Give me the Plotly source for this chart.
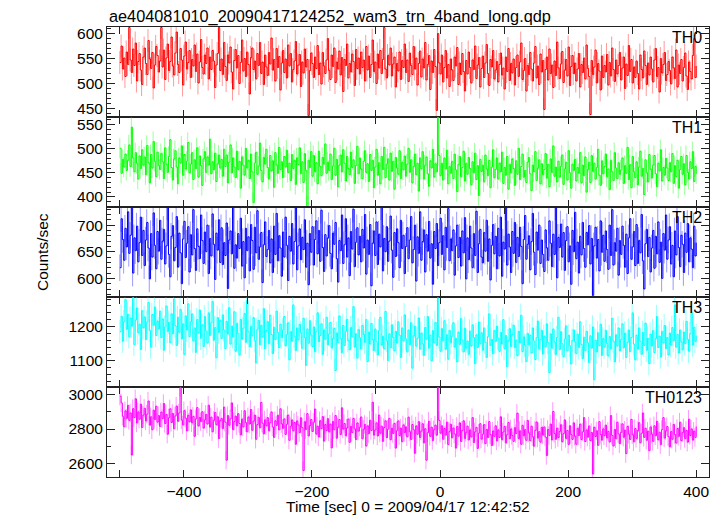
import plotly.graph_objects as go
from plotly.subplots import make_subplots

# time bins: first bin centre and bin width (seconds)
t_start = -500
bin_width = 2

th0 = [542, 575, 529, 551, 514, 563, 538,
       612, 547, 522, 569, 536, 581, 505, 544, 560, 527, 498, 553,
       571, 540, 518, 586, 549, 530, 562, 491, 537, 574, 556, 523,
       545, 612, 533, 567, 508, 551, 579, 526, 544, 593, 535, 517,
       561, 603, 538, 522, 570, 547, 497, 555, 583, 529, 542, 566,
       512, 548, 535, 577, 524, 559, 501, 543, 588, 532, 519, 557,
       540, 571, 509, 553, 528, 566, 545, 492, 537, 560, 612, 526,
       549, 518, 582, 534, 506, 557, 541, 573, 523, 489, 546, 568,
       531, 556, 500, 542, 587, 525, 550, 514, 563, 538, 479, 552,
       571, 528, 545, 509, 560, 536, 582, 520, 543, 498, 557, 533,
       516, 562, 539, 591, 527, 548, 505, 570, 532, 554, 487, 541,
       566, 522, 549, 511, 577, 535, 560, 503, 528, 545, 584, 519,
       537, 558, 494, 543, 521, 569, 533, 548, 436, 526, 561, 540,
       512, 553, 530, 576, 518, 541, 499, 562, 535, 520, 547, 590,
       526, 508, 557, 534, 571, 502, 543, 529, 565, 517, 552, 484,
       548, 536, 579, 511, 540, 523, 559, 544, 496, 568, 530, 551,
       519, 563, 532, 547, 505, 574, 527, 555, 512, 538, 587, 524,
       543, 500, 559, 531, 566, 520, 548, 612, 529, 511, 556, 537,
       571, 515, 539, 553, 493, 540, 525, 563, 508, 546, 532, 579,
       522, 547, 504, 561, 536, 518, 574, 529, 551, 497, 540, 565,
       513, 549, 531, 582, 507, 538, 556, 488, 545, 522, 568, 534,
       446, 600, 541, 519, 557, 503, 532, 566, 511, 538, 494, 549,
       527, 506, 553, 535, 572, 498, 541, 518, 560, 524, 485, 546,
       519, 563, 532, 501, 547, 528, 575, 510, 537, 552, 493, 530,
       555, 512, 541, 578, 520, 496, 548, 533, 566, 509, 527, 544,
       503, 538, 561, 517, 531, 489, 553, 524, 570, 506, 540, 521,
       549, 497, 532, 557, 514, 543, 581, 508, 526, 550, 485, 536,
       518, 562, 529, 505, 541, 574, 511, 535, 498, 559, 523, 546,
       448, 528, 553, 507, 569, 520, 537, 492, 545, 516, 583, 531,
       510, 539, 564, 502, 527, 548, 515, 573, 496, 534, 556, 520,
       541, 505, 529, 560, 493, 538, 522, 551, 509, 577, 530, 514,
       438, 546, 518, 533, 567, 501, 540, 525, 487, 555, 512, 536,
       523, 558, 497, 542, 515, 571, 528, 504, 547, 519, 536, 562,
       507, 531, 553, 490, 539, 516, 576, 524, 548, 501, 533, 512,
       545, 520, 489, 557, 528, 511, 565, 536, 498, 541, 517, 553,
       529, 503, 547, 570, 514, 532, 483, 550, 521, 538, 562, 506,
       518, 544, 526, 499, 553, 531, 510, 567, 493, 537, 520, 548,
       505, 532, 561, 515, 488, 543, 524, 509, 556, 590, 512, 535]

th1 = [501, 449, 478, 462, 489, 455, 476,
       508, 463, 545, 481, 452, 492, 470, 437, 485, 459, 498, 466,
       483, 446, 507, 471, 429, 488, 460, 515, 474, 442, 493, 465,
       457, 490, 473, 438, 502, 468, 451, 484, 519, 461, 435, 479,
       496, 462, 427, 481, 470, 506, 445, 488, 458, 474, 513, 450,
       468, 492, 436, 477, 459, 502, 441, 485, 465, 424, 479, 494,
       451, 483, 466, 520, 448, 473, 456, 491, 432, 469, 487, 460,
       478, 443, 499, 463, 487, 429, 472, 508, 450, 481, 462, 440,
       495, 457, 474, 418, 483, 466, 445, 501, 460, 476, 438, 489,
       452, 388, 470, 493, 447, 464, 512, 455, 431, 482, 468, 499,
       461, 437, 486, 454, 475, 420, 492, 466, 449, 503, 457, 473,
       440, 484, 462, 497, 451, 470, 434, 488, 459, 476, 426, 481,
       467, 502, 448, 473, 430, 490, 455, 380, 476, 461, 494, 443,
       486, 452, 471, 427, 495, 463, 444, 482, 468, 510, 449, 472,
       455, 489, 436, 464, 501, 445, 478, 421, 466, 487, 452, 498,
       470, 433, 484, 459, 446, 493, 461, 477, 428, 465, 505, 448,
       481, 458, 438, 474, 496, 451, 469, 432, 488, 455, 476, 419,
       462, 499, 445, 471, 427, 484, 457, 503, 440, 468, 479, 435,
       491, 453, 474, 416, 482, 460, 447, 496, 438, 472, 456, 485,
       443, 468, 501, 451, 477, 429, 463, 489, 446, 470, 412, 481,
       458, 494, 437, 466, 483, 448, 422, 475, 460, 499, 441, 469,
       452, 565, 486, 444, 470, 435, 481, 458, 497, 427, 463, 449,
       474, 438, 489, 456, 411, 467, 484, 442, 461, 495, 433, 470,
       447, 482, 459, 425, 473, 450, 491, 436, 465, 403, 478, 453,
       466, 431, 487, 458, 444, 476, 419, 462, 498, 440, 457, 481,
       437, 470, 452, 493, 428, 461, 445, 484, 416, 467, 450, 479,
       459, 424, 475, 447, 501, 436, 463, 489, 441, 455, 430, 472,
       482, 448, 413, 466, 452, 494, 434, 460, 477, 427, 469, 446,
       457, 490, 439, 468, 421, 479, 451, 506, 443, 462, 431, 474,
       441, 463, 487, 426, 458, 472, 435, 496, 450, 418, 468, 455,
       478, 433, 461, 449, 492, 429, 466, 444, 483, 410, 457, 472,
       430, 486, 453, 470, 437, 461, 499, 445, 424, 475, 448, 463,
       489, 442, 458, 415, 476, 452, 434, 492, 460, 438, 471, 447,
       456, 481, 428, 465, 449, 503, 436, 467, 419, 484, 452, 440,
       473, 425, 462, 495, 443, 459, 405, 477, 450, 431, 488, 457,
       439, 466, 486, 448, 421, 470, 454, 498, 433, 461, 445, 480,
       460, 434, 471, 452, 490, 428, 465, 442, 476, 418, 457, 484,
       447, 469, 425, 486, 451, 437, 473, 459, 494, 432, 463, 448]

th2 = [620, 712, 673, 634, 694, 659, 725,
       647, 681, 734, 610, 676, 652, 698, 631, 667, 715, 643, 690,
       624, 672, 705, 657, 599, 684, 640, 723, 662, 618, 688, 651,
       709, 636, 670, 692, 627, 661, 734, 645, 603, 679, 699, 633,
       658, 716, 621, 685, 648, 590, 674, 707, 639, 666, 697, 612,
       682, 644, 729, 656, 615, 693, 660, 637, 719, 671, 628, 687,
       650, 700, 609, 675, 642, 721, 664, 598, 685, 653, 710, 630,
       695, 626, 667, 643, 704, 581, 672, 689, 646, 734, 619, 663,
       638, 684, 656, 713, 623, 669, 601, 694, 652, 678, 614, 701,
       671, 617, 696, 648, 727, 636, 659, 686, 592, 663, 706, 641,
       654, 690, 629, 674, 611, 698, 645, 722, 633, 680, 657, 604,
       687, 640, 715, 662, 596, 679, 651, 703, 627, 669, 734, 616,
       661, 693, 635, 677, 654, 710, 621, 666, 588, 684, 649, 697,
       625, 673, 708, 646, 690, 632, 728, 658, 613, 682, 642, 676,
       699, 647, 618, 685, 664, 705, 637, 593, 671, 652, 719, 628,
       663, 712, 640, 676, 605, 688, 655, 730, 622, 668, 695, 644,
       679, 631, 692, 657, 720, 608, 672, 645, 701, 586, 666, 689,
       643, 706, 626, 683, 659, 734, 614, 675, 650, 697, 632, 670,
       717, 653, 602, 686, 641, 693, 667, 620, 709, 656, 681, 609,
       660, 695, 637, 672, 716, 629, 654, 700, 595, 678, 647, 725,
       634, 669, 691, 612, 682, 651, 707, 638, 665, 589, 688, 656,
       703, 624, 667, 713, 645, 680, 616, 696, 658, 731, 633, 674,
       652, 691, 606, 661, 700, 639, 677, 623, 689, 648, 714, 599,
       676, 635, 698, 657, 620, 684, 643, 726, 611, 665, 692, 640,
       629, 686, 651, 709, 632, 674, 597, 662, 701, 646, 679, 618,
       694, 642, 715, 604, 668, 655, 734, 625, 683, 659, 611, 688,
       647, 705, 630, 677, 641, 696, 660, 590, 673, 718, 636, 664,
       680, 616, 669, 722, 649, 607, 687, 653, 700, 628, 672, 645,
       613, 691, 657, 634, 708, 666, 622, 683, 645, 734, 601, 677,
       658, 702, 640, 686, 615, 671, 697, 631, 661, 589, 690, 650,
       724, 637, 668, 610, 679, 644, 705, 656, 621, 686, 663, 699,
       627, 675, 568, 661, 696, 638, 673, 614, 708, 649, 681, 632,
       689, 654, 617, 700, 643, 729, 625, 667, 651, 694, 606, 671,
       645, 698, 662, 621, 683, 609, 676, 712, 636, 659, 688, 624,
       701, 628, 671, 648, 720, 633, 580, 665, 692, 641, 677, 612,
       657, 690, 619, 679, 646, 706, 630, 668, 600, 684, 653, 719,
       636, 672, 697, 627, 662, 603, 689, 644, 716, 658, 622, 681,
       664, 611, 685, 649, 703, 631, 676, 655, 620, 698, 642, 667]

th3 = [1185, 1230, 1157, 1214, 1278, 1192, 1236,
       1170, 1225, 1201, 1284, 1148, 1219, 1254, 1182, 1207, 1133, 1246, 1196,
       1228, 1162, 1213, 1270, 1189, 1140, 1235, 1204, 1257, 1174, 1216, 1193,
       1245, 1168, 1222, 1131, 1199, 1260, 1186, 1212, 1153, 1237, 1179, 1280,
       1202, 1145, 1227, 1183, 1250, 1164, 1208, 1119, 1231, 1190, 1266, 1171,
       1214, 1237, 1158, 1196, 1125, 1220, 1181, 1248, 1166, 1205, 1142, 1229,
       1187, 1152, 1240, 1174, 1211, 1273, 1160, 1197, 1109, 1226, 1183, 1218,
       1165, 1234, 1190, 1136, 1215, 1178, 1255, 1149, 1201, 1170, 1243, 1128,
       1209, 1180, 1117, 1221, 1163, 1195, 1238, 1154, 1276, 1185, 1141, 1200,
       1173, 1226, 1159, 1094, 1192, 1218, 1147, 1204, 1169, 1252, 1136, 1188,
       1214, 1150, 1233, 1177, 1121, 1198, 1162, 1245, 1183, 1139, 1207, 1168,
       1190, 1229, 1144, 1176, 1211, 1103, 1185, 1157, 1263, 1172, 1130, 1196,
       1161, 1206, 1182, 1137, 1224, 1168, 1087, 1193, 1151, 1217, 1176, 1142,
       1199, 1127, 1185, 1240, 1156, 1174, 1208, 1119, 1190, 1163, 1227, 1147,
       1178, 1212, 1138, 1165, 1195, 1072, 1181, 1153, 1231, 1166, 1124, 1203,
       1145, 1186, 1221, 1159, 1132, 1197, 1170, 1258, 1140, 1179, 1108, 1191,
       1167, 1135, 1203, 1177, 1154, 1220, 1098, 1184, 1149, 1209, 1162, 1130,
       1193, 1156, 1117, 1188, 1227, 1146, 1172, 1135, 1244, 1160, 1101, 1179,
       1138, 1205, 1168, 1129, 1186, 1152, 1214, 1175, 1110, 1196, 1158, 1234,
       1164, 1126, 1190, 1147, 1211, 1079, 1173, 1201, 1143, 1166, 1225, 1134,
       1181, 1150, 1116, 1197, 1163, 1229, 1137, 1175, 1100, 1188, 1152, 1212,
       1145, 1283, 1170, 1128, 1194, 1159, 1217, 1134, 1176, 1105, 1189, 1153,
       1172, 1211, 1140, 1166, 1097, 1184, 1148, 1223, 1161, 1126, 1195, 1137,
       1158, 1119, 1187, 1143, 1205, 1168, 1092, 1176, 1139, 1213, 1150, 1182,
       1131, 1196, 1154, 1110, 1171, 1237, 1145, 1163, 1121, 1188, 1157, 1201,
       1166, 1128, 1183, 1149, 1220, 1136, 1174, 1083, 1159, 1194, 1142, 1177,
       1204, 1139, 1161, 1115, 1186, 1152, 1233, 1127, 1170, 1146, 1098, 1180,
       1147, 1175, 1123, 1196, 1158, 1104, 1167, 1216, 1135, 1162, 1189, 1120,
       1172, 1141, 1208, 1153, 1066, 1179, 1137, 1193, 1155, 1118, 1168, 1227,
       1133, 1185, 1150, 1112, 1163, 1202, 1129, 1174, 1144, 1091, 1160, 1190,
       1156, 1121, 1178, 1139, 1214, 1148, 1107, 1169, 1130, 1186, 1153, 1095,
       1173, 1137, 1199, 1045, 1160, 1126, 1182, 1144, 1207, 1116, 1165, 1140,
       1189, 1151, 1114, 1171, 1135, 1224, 1158, 1097, 1176, 1143, 1196, 1129,
       1162, 1208, 1138, 1181, 1110, 1154, 1190, 1127, 1168, 1240, 1149, 1103,
       1175, 1134, 1196, 1157, 1119, 1183, 1145, 1210, 1131, 1166, 1092, 1178,
       1143, 1188, 1124, 1165, 1229, 1139, 1172, 1111, 1186, 1152, 1203, 1136,
       1168, 1117, 1181, 1146, 1197, 1159, 1263, 1140, 1177, 1123, 1190, 1155,
       1132, 1184, 1150, 1215, 1163, 1128, 1179, 1241, 1146, 1198, 1157, 1174]

th0123 = [2990, 2951, 2874, 2813, 2905, 2862, 2937,
          2850, 2893, 2650, 2918, 2866, 2975, 2835, 2899, 2857, 2944, 2809, 2881,
          2920, 2847, 2886, 2962, 2823, 2871, 2796, 2909, 2855, 2932, 2840, 2878,
          2815, 2898, 2861, 2948, 2832, 2884, 2770, 2865, 2917, 2838, 2890, 2802,
          2876, 2933, 2845, 2893, 3040, 2852, 2824, 2906, 2863, 2789, 2880, 2841,
          2911, 2836, 2874, 2758, 2859, 2924, 2818, 2867, 2843, 2900, 2806, 2853,
          2885, 2829, 2938, 2811, 2869, 2784, 2851, 2896, 2825, 2871, 2745, 2849,
          2862, 2803, 2927, 2840, 2620, 2878, 2822, 2859, 2951, 2797, 2843, 2875,
          2818, 2889, 2833, 2766, 2857, 2812, 2906, 2837, 2784, 2870, 2829, 2913,
          2793, 2846, 2881, 2741, 2826, 2868, 2807, 2954, 2834, 2772, 2853, 2819,
          2866, 2790, 2837, 2899, 2812, 2752, 2848, 2821, 2880, 2795, 2917, 2830,
          2804, 2859, 2769, 2827, 2881, 2735, 2816, 2853, 2790, 2838, 2712, 2847,
          2823, 2779, 2865, 2808, 2560, 2842, 2797, 2889, 2760, 2821, 2855, 2786,
          2839, 2916, 2771, 2817, 2754, 2848, 2802, 2872, 2730, 2826, 2791, 2860,
          2784, 2829, 2691, 2843, 2796, 2878, 2747, 2811, 2855, 2768, 2923, 2800,
          2832, 2762, 2806, 2858, 2723, 2815, 2780, 2862, 2801, 2739, 2835, 2788,
          2811, 2870, 2744, 2799, 2827, 2702, 2818, 2773, 2851, 2792, 2955, 2765,
          2795, 2836, 2760, 2881, 2776, 2817, 2729, 2809, 2848, 2751, 2799, 2862,
          2738, 2805, 2774, 2833, 2690, 2790, 2847, 2762, 2806, 2727, 2824, 2780,
          2813, 2755, 2869, 2784, 2740, 2826, 2796, 2660, 2818, 2770, 2843, 2752,
          2789, 2831, 2720, 2802, 2620, 2779, 2845, 2758, 2811, 2733, 2796, 2823,
          2764, 3043, 2850, 2776, 2819, 2741, 2803, 2765, 2840, 2711, 2787, 2828,
          2749, 2806, 2772, 2690, 2815, 2759, 2836, 2728, 2792, 2848, 2746, 2781,
          2817, 2737, 2795, 2754, 2866, 2722, 2784, 2810, 2688, 2776, 2831, 2742,
          2770, 2826, 2716, 2797, 2751, 2843, 2768, 2705, 2789, 2758, 2819, 2731,
          2795, 2752, 2871, 2739, 2783, 2815, 2720, 2767, 2838, 2744, 2801, 2762,
          2729, 2808, 2774, 2892, 2745, 2790, 2712, 2822, 2761, 2797, 2735, 2850,
          2778, 2733, 2817, 2756, 2701, 2793, 2841, 2748, 2785, 2724, 2809, 2766,
          2812, 2754, 2647, 2798, 2763, 2829, 2737, 2902, 2775, 2741, 2806, 2751,
          2786, 2825, 2727, 2773, 2853, 2746, 2792, 2711, 2819, 2768, 2740, 2836,
          2758, 2712, 2804, 2762, 2829, 2740, 2783, 2866, 2728, 2795, 2753, 2818,
          2734, 2780, 2540, 2811, 2757, 2790, 2706, 2843, 2769, 2736, 2801, 2761,
          2823, 2749, 2787, 2725, 2878, 2763, 2702, 2798, 2744, 2840, 2772, 2715,
          2781, 2830, 2753, 2794, 2658, 2815, 2771, 2740, 2856, 2767, 2726, 2803,
          2746, 2791, 2837, 2720, 2776, 2893, 2752, 2805, 2735, 2788, 2675, 2812,
          2770, 2729, 2819, 2761, 2845, 2738, 2782, 2710, 2797, 2866, 2748, 2790,
          2815, 2756, 2697, 2785, 2741, 2827, 2768, 2719, 2803, 2758, 2840, 2733,
          2779, 2808, 2745, 2792, 2724, 2857, 2763, 2801, 2736, 2788, 2752, 2815]

band_names = ["TH0", "TH1", "TH2", "TH3", "TH0123"]
band_errors = [23, 21, 25, 34, 53]
x_tickvals = [-500, -400, -300, -200, -100, 0, 100, 200, 300, 400]
x_ticktext = ["", "\u2212400", "", "\u2212200", "", "0", "", "200", "", "400"]

series = [th0, th1, th2, th3, th0123]
colors = ["#ff0000", "#00ff00", "#0000ff", "#00ffff", "#ff00ff"]
light = ["rgba(255,0,0,0.4)", "rgba(0,255,0,0.4)", "rgba(0,0,255,0.4)",
         "rgba(0,255,255,0.4)", "rgba(255,0,255,0.4)"]
y_ranges = [[433, 613], [379, 566], [565, 734], [1024, 1286], [2523, 3043]]
y_dticks = [50, 50, 50, 100, 200]
y_minor = [10, 10, 10, 20, 100]

times = [t_start + bin_width * i for i in range(len(th0))]

FONT = "Liberation Sans, Arial, Helvetica, sans-serif"
AX = "#222222"
fig = make_subplots(rows=5, cols=1, shared_xaxes=True, vertical_spacing=0)

for k, ys in enumerate(series):
    fig.add_trace(go.Scatter(
        x=times, y=ys, mode="lines",
        line=dict(color=colors[k], width=1, shape="hv"),
        error_y=dict(type="constant", value=band_errors[k], color=light[k],
                     thickness=1, width=0),
        showlegend=False, hoverinfo="skip"), row=k + 1, col=1)
    fig.update_yaxes(row=k + 1, col=1, range=y_ranges[k], dtick=y_dticks[k],
                     tick0=0, ticks="inside", ticklen=8, tickwidth=1,
                     tickcolor=AX, showline=True, linecolor=AX,
                     linewidth=1, mirror="allticks", showgrid=False,
                     zeroline=False,
                     minor=dict(ticks="inside", ticklen=4, dtick=y_minor[k],
                                tick0=0, tickcolor=AX, showgrid=False),
                     tickfont=dict(family=FONT, size=15.5, color="black"))
    fig.update_xaxes(row=k + 1, col=1, range=[-520, 420],
                     tickvals=x_tickvals, ticktext=x_ticktext,
                     ticks="inside", ticklen=7, tickwidth=1, tickcolor=AX,
                     showline=True, linecolor=AX, linewidth=1,
                     mirror="allticks", showgrid=False, zeroline=False,
                     showticklabels=(k == 4),
                     tickfont=dict(family=FONT, size=15.5, color="black"))
    fig.add_annotation(text=band_names[k], xref="x domain", yref="y domain",
                       x=0.992, y=1.0, xanchor="right", yanchor="top",
                       showarrow=False, row=k + 1, col=1,
                       font=dict(family=FONT, size=16, color="black"))

fig.add_annotation(text="ae404081010_20090417124252_wam3_trn_4band_long.qdp",
                   xref="paper", yref="paper", x=0, y=1.0, xanchor="left",
                   yanchor="bottom", yshift=-1, showarrow=False,
                   font=dict(family=FONT, size=16.3, color="black"))
fig.add_annotation(text="Counts/sec", xref="paper", yref="paper",
                   x=-0.108, y=0.5, xanchor="center", yanchor="middle",
                   textangle=-90, showarrow=False,
                   font=dict(family=FONT, size=15.5, color="black"))
fig.add_annotation(text="Time [sec] 0 = 2009/04/17 12:42:52",
                   xref="paper", yref="paper", x=0.5, y=0, xanchor="center",
                   yanchor="top", yshift=-19, showarrow=False,
                   font=dict(family=FONT, size=15.5, color="black"))

# the page body adds an 8 px offset, so margins are shifted to compensate
fig.update_layout(width=723, height=516,
                  margin=dict(l=99, r=22, t=19, b=47),
                  paper_bgcolor="white", plot_bgcolor="white")

fig.write_html("out.html")
